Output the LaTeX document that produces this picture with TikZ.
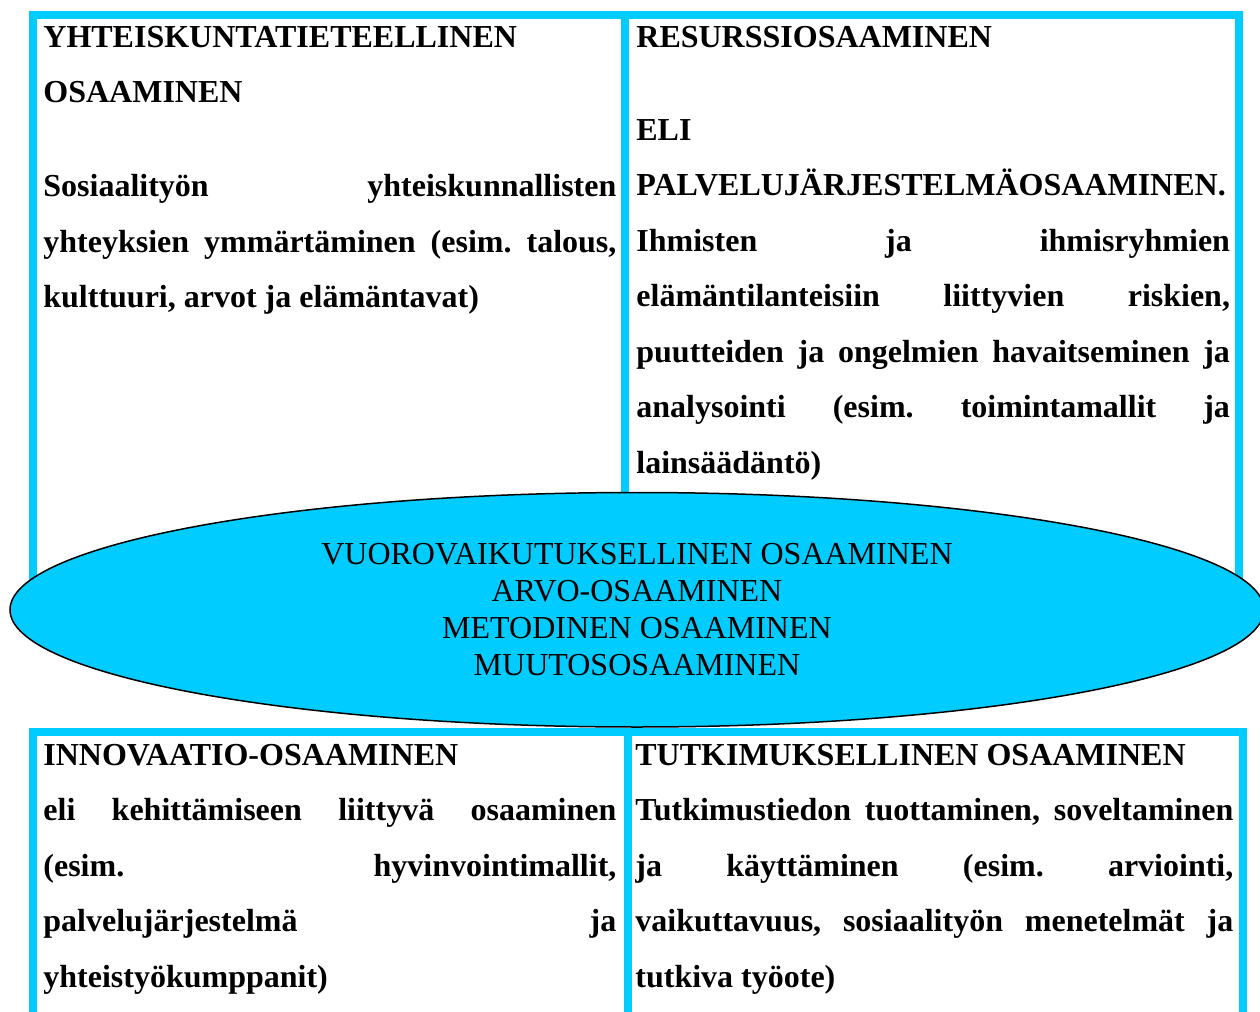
\documentclass[tikz,border=0pt]{standalone}
\usepackage{fontspec}
\setmainfont{Liberation Serif}
\usetikzlibrary{shapes.geometric}

\definecolor{boxcyan}{RGB}{0,204,255}

\tolerance=10000
\hbadness=10000
\hyphenpenalty=10000
\exhyphenpenalty=10000
\frenchspacing

\begin{document}
\begin{tikzpicture}[x=0.5pt, y=-0.5pt,
	frame/.style={draw=boxcyan, line width=4pt},
	cell/.style={anchor=north west, inner sep=0pt, align=justify, text width=#1,
		font=\bfseries\fontsize{16pt}{27.75pt}\selectfont},
	oval/.style={ellipse, draw, line width=0.75pt, fill=boxcyan, inner sep=0pt,
		minimum width=627pt, minimum height=117.25pt, align=center,
		font=\fontsize{16pt}{18.5pt}\selectfont}]
	
	\useasboundingbox (0,0) rectangle (1260,1012);
	\clip (0,0) rectangle (1260,1012);
	
	\draw[frame] (33,14.5) rectangle (1239,600);
	\draw[frame] (625,14.5) -- (625,600);
	
	\draw[frame] (33,1030) |- (1243,732) -- (1243,1030);
	\draw[frame] (627.5,732) -- (627.5,1030);
	
	\node[cell=286.5pt] (social) at (43,8.15) {\strut YHTEISKUNTATIETEELLINEN\\
		OSAAMINEN\\[19.25pt]
		Sosiaalityön yhteiskunnallisten\linebreak
		yhteyksien ymmärtäminen (esim. talous,\linebreak
		kulttuuri, arvot ja elämäntavat)};
	
	\node[cell=296.8pt] (resource) at (636,8.15) {\strut RESURSSIOSAAMINEN\\[18.75pt]
		ELI\\
		PALVELUJÄRJESTELMÄOSAAMINEN.\\
		Ihmisten ja ihmisryhmien\linebreak
		elämäntilanteisiin liittyvien riskien,\linebreak
		puutteiden ja ongelmien havaitseminen ja\linebreak
		analysointi (esim. toimintamallit ja\linebreak
		lainsäädäntö)};
	
	\node[cell=286.5pt] (innovation) at (43,726.15) {\strut INNOVAATIO-OSAAMINEN\\
		eli kehittämiseen liittyvä osaaminen\linebreak
		(esim. hyvinvointimallit,\linebreak
		palvelujärjestelmä ja\linebreak
		yhteistyökumppanit)};
	
	\node[cell=299pt] (research) at (635,726.15) {\strut TUTKIMUKSELLINEN OSAAMINEN\\
		Tutkimustiedon tuottaminen, soveltaminen\linebreak
		ja käyttäminen (esim. arviointi,\linebreak
		vaikuttavuus, sosiaalityön menetelmät ja\linebreak
		tutkiva työote)};
	
	\node[oval] (core) at (637,609.75) {VUOROVAIKUTUKSELLINEN OSAAMINEN\\
		ARVO-OSAAMINEN\\
		METODINEN OSAAMINEN\\
		MUUTOSOSAAMINEN};
	
\end{tikzpicture}
\end{document}
